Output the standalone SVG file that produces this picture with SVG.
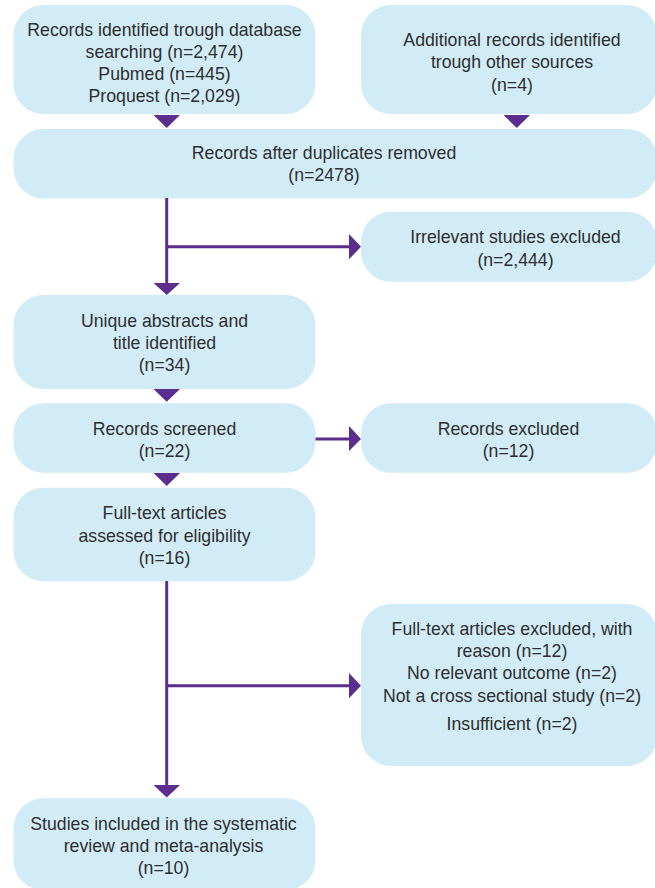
<svg xmlns="http://www.w3.org/2000/svg" width="655" height="888" viewBox="0 0 655 888">
<style>
.box{fill:#d2ecf7;}
.t{font-family:"Liberation Sans",Arial,sans-serif;font-size:17.7px;fill:#2e2e2e;text-anchor:middle;}
.ln{stroke:#5b2d8e;stroke-width:3;fill:none;}
.ah{fill:#5b2d8e;}
</style>
<rect width="655" height="888" fill="#ffffff"/>
<g id="n1"><rect class="box" x="13.5" y="5" width="302" height="109" rx="30"/>
<text class="t" x="164.5" y="35.5">Records identified trough database</text>
<text class="t" x="164.5" y="57.8">searching (n=2,474)</text>
<text class="t" x="164.5" y="80">Pubmed (n=445)</text>
<text class="t" x="164.5" y="102.3">Proquest (n=2,029)</text></g>
<g id="n2"><rect class="box" x="361" y="5" width="296" height="109" rx="30"/>
<text class="t" x="512" y="46">Additional records identified</text>
<text class="t" x="512" y="68">trough other sources</text>
<text class="t" x="512" y="90.5">(n=4)</text></g>
<g id="n3"><rect class="box" x="13.5" y="129" width="643.5" height="69.5" rx="30"/>
<text class="t" x="324" y="159.3">Records after duplicates removed</text>
<text class="t" x="324" y="181">(n=2478)</text></g>
<g id="n4"><rect class="box" x="361" y="211.7" width="296" height="70" rx="30"/>
<text class="t" x="515.5" y="243.3">Irrelevant studies excluded</text>
<text class="t" x="515.5" y="265.7">(n=2,444)</text></g>
<g id="n5"><rect class="box" x="13.5" y="295" width="302" height="94" rx="30"/>
<text class="t" x="164.5" y="326.7">Unique abstracts and</text>
<text class="t" x="164.5" y="349">title identified</text>
<text class="t" x="164.5" y="371">(n=34)</text></g>
<g id="n6"><rect class="box" x="13.5" y="403.3" width="302" height="69.5" rx="30"/>
<text class="t" x="164.5" y="435">Records screened</text>
<text class="t" x="164.5" y="457.3">(n=22)</text></g>
<g id="n7"><rect class="box" x="361" y="403.3" width="296" height="69.5" rx="30"/>
<text class="t" x="508.5" y="435">Records excluded</text>
<text class="t" x="508.5" y="457.3">(n=12)</text></g>
<g id="n8"><rect class="box" x="13.5" y="487.7" width="302" height="93.5" rx="30"/>
<text class="t" x="164.5" y="519.3">Full-text articles</text>
<text class="t" x="164.5" y="541.7">assessed for eligibility</text>
<text class="t" x="164.5" y="564">(n=16)</text></g>
<g id="n9"><rect class="box" x="361" y="604" width="296" height="162" rx="30"/>
<text class="t" x="512" y="635">Full-text articles excluded, with</text>
<text class="t" x="512" y="657.3">reason (n=12)</text>
<text class="t" x="512" y="679.3">No relevant outcome (n=2)</text>
<text class="t" x="512" y="701.7">Not a cross sectional study (n=2)</text>
<text class="t" x="512" y="730">Insufficient (n=2)</text></g>
<g id="n10"><rect class="box" x="13.5" y="798.3" width="302" height="92" rx="30"/>
<text class="t" x="163.5" y="830">Studies included in the systematic</text>
<text class="t" x="163.5" y="852">review and meta-analysis</text>
<text class="t" x="163.5" y="874">(n=10)</text></g>
<g id="connectors">
<polygon class="ah" points="153.5,115 180,115 166.7,128"/>
<polygon class="ah" points="503.5,115 530,115 516.8,128"/>
<line class="ln" x1="166.7" y1="198" x2="166.7" y2="284"/>
<polygon class="ah" points="153.5,283 180,283 166.7,295"/>
<line class="ln" x1="166.7" y1="246.7" x2="350" y2="246.7"/>
<polygon class="ah" points="349,234 361,246.7 349,259.3"/>
<polygon class="ah" points="153.5,389 180,389 166.7,401.7"/>
<line class="ln" x1="315.5" y1="439" x2="350" y2="439"/>
<polygon class="ah" points="349,426 361,439 349,451"/>
<polygon class="ah" points="153.5,473 180,473 166.7,486"/>
<line class="ln" x1="166.7" y1="581" x2="166.7" y2="786"/>
<line class="ln" x1="166.7" y1="685.7" x2="350" y2="685.7"/>
<polygon class="ah" points="349,673 361,685.7 349,698.3"/>
<polygon class="ah" points="153.5,785 180,785 166.7,797.5"/>
</g>
</svg>
